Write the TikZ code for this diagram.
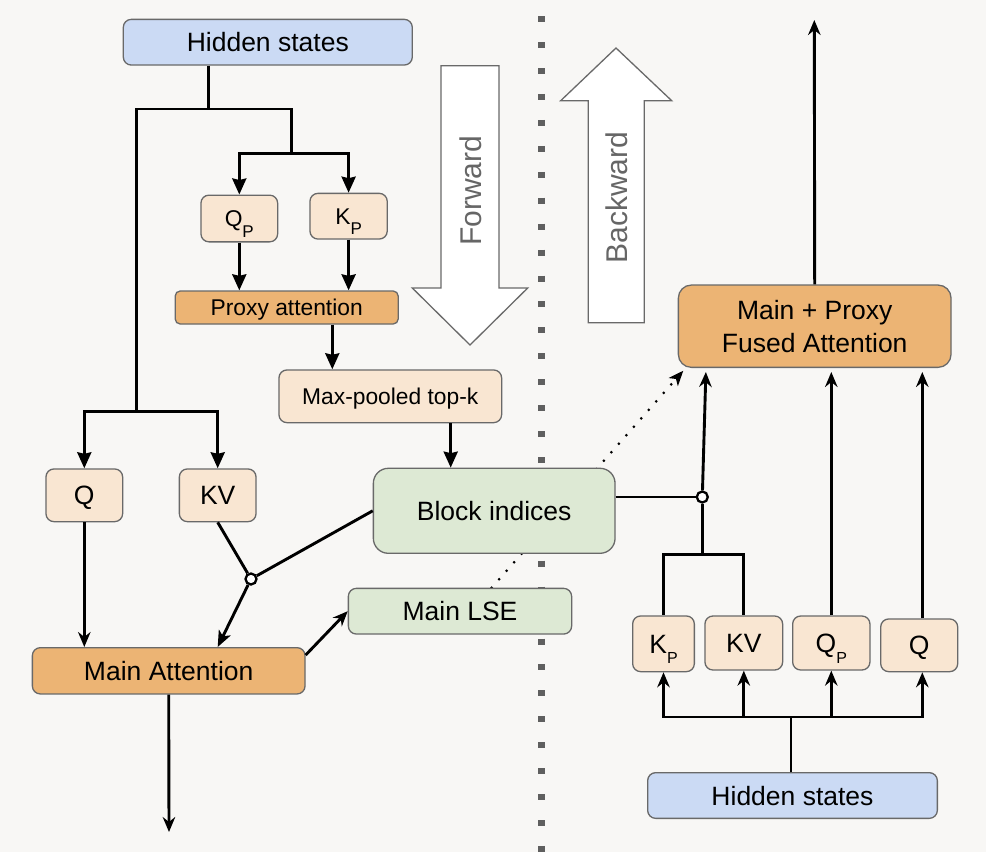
\documentclass[tikz,border=0pt]{standalone}
\usepackage{fontspec}
\setmainfont{Liberation Sans}
\usetikzlibrary{arrows.meta,calc}
\pgfdeclarelayer{bg}
\pgfsetlayers{bg,main}
\definecolor{bgc}{RGB}{248,247,245}
\definecolor{bordc}{RGB}{105,105,105}
\definecolor{bluec}{RGB}{203,218,244}
\definecolor{peachc}{RGB}{249,230,210}
\definecolor{orangec}{RGB}{236,180,116}
\definecolor{greenc}{RGB}{221,233,212}
\definecolor{dotc}{RGB}{95,95,95}
\definecolor{bigarrtxt}{RGB}{102,102,102}
\newcommand\subP[1]{\raisebox{-10.5pt}{\fontsize{#1}{#1}\selectfont P}}
\begin{document}
\begin{tikzpicture}[x=1pt,y=-1pt,
  box/.style={draw=bordc,line width=1.3pt,rounded corners=8pt,inner sep=0pt,text=black},
  big/.style={font=\fontsize{26.5}{32}\selectfont,text height=19pt,text depth=0pt},
  small/.style={font=\fontsize{22.8}{27}\selectfont,text height=16.3pt,text depth=0pt},
  blue box/.style={box,fill=bluec},
  peach box/.style={box,fill=peachc},
  orange box/.style={box,fill=orangec},
  green box/.style={box,fill=greenc},
  ln/.style={line width=2.9pt,draw=black},
  arrb/.style={ln,-{Stealth[length=16pt,width=14pt,inset=1.5pt]}},
  arrs/.style={ln,-{Stealth[length=16pt,width=13pt,inset=4pt]}},
  arrc/.style={ln,-{Stealth[length=15pt,width=12.5pt,inset=5pt]}},
  junc/.style={circle,draw=black,fill=white,line width=2.3pt,minimum size=11pt,inner sep=0pt},
  bigarrow/.style={fill=white,draw=bordc,line width=1.3pt,line join=miter},
  bigarrtext/.style={font=\fontsize{30}{36}\selectfont,text=bigarrtxt,text height=21.5pt,text depth=0pt,rotate=90},
  dotl/.style={line width=3pt,line cap=round,dash pattern=on 0pt off 11.3pt,
     -{Stealth[length=15pt,width=12pt,inset=4pt,line cap=butt]}},
  vdots/.style={line width=7pt,draw=dotc,dash pattern=on 6pt off 19.93pt}
]
\useasboundingbox (0,0) rectangle (986,852);
\begin{pgfonlayer}{bg}
  \fill[bgc] (0,0) rectangle (986,852);
  \draw[vdots] (541.5,16.2) -- (541.5,852);
\end{pgfonlayer}

% ---------- left (forward) nodes ----------
\node[blue box,big,minimum width=289pt,minimum height=45.7pt] (hs1) at (267.8,42.2) {Hidden states};
\node[peach box,small,minimum width=76.7pt,minimum height=46.7pt] (qp1) at (239.3,218.5) {Q\subP{17}};
\node[peach box,small,minimum width=77.3pt,minimum height=45.7pt] (kp1) at (348.6,216.2) {K\subP{17}};
\node[orange box,small,rounded corners=5pt,minimum width=223pt,minimum height=33pt] (proxy) at (286.7,307.5) {Proxy attention};
\node[peach box,small,minimum width=222.7pt,minimum height=52.7pt] (mp) at (390.3,396.3) {Max-pooled top-k};
\node[green box,big,rounded corners=15pt,minimum width=241.7pt,minimum height=85pt] (block) at (494.2,510.8) {Block indices};
\node[green box,big,minimum width=223.3pt,minimum height=45.7pt] (lse) at (460,611.2) {Main LSE};
\node[peach box,big,minimum width=76.7pt,minimum height=52.7pt] (q1) at (84.3,495.3) {Q};
\node[peach box,big,minimum width=76.7pt,minimum height=52.7pt] (kv1) at (217.7,495.3) {KV};
\node[orange box,big,minimum width=272.7pt,minimum height=46.3pt] (main) at (168.7,670.8) {Main Attention};
\node[junc] (j1) at (251,579) {};

% ---------- big direction arrows ----------
\draw[bigarrow] (441,65.7) -- (499,65.7) -- (499,288) -- (527.7,288) -- (470,345) -- (412.3,288) -- (441,288) -- cycle;
\node[bigarrtext] (fwdt) at (470.3,190.8) {Forward};
\draw[bigarrow] (616,48) -- (671.7,100.7) -- (644.3,100.7) -- (644.3,322.7) -- (588.3,322.7) -- (588.3,100.7) -- (560.7,100.7) -- cycle;
\node[bigarrtext] (bwdt) at (616.5,197.5) {Backward};

% ---------- right (backward) nodes ----------
\node[orange box,rounded corners=13pt,minimum width=272.7pt,minimum height=82.3pt,align=center,
      font=\fontsize{26.5}{33}\selectfont] (fused) at (814.7,326.2) {Main + Proxy\\Fused Attention};
\node[peach box,big,minimum width=61.7pt,minimum height=55.7pt] (kp2) at (663.5,643.8) {K\subP{16}};
\node[peach box,big,minimum width=77.7pt,minimum height=54pt] (kv2) at (743.8,643) {KV};
\node[peach box,big,minimum width=77.3pt,minimum height=54pt] (qp2) at (831.3,643) {Q\subP{16}};
\node[peach box,big,minimum width=77pt,minimum height=52.7pt] (q2) at (919.2,645.3) {Q};
\node[blue box,big,minimum width=289.7pt,minimum height=45.7pt] (hs2) at (792.5,795.5) {Hidden states};
\node[junc] (j2) at (702.3,497) {};

% ---------- guide coordinates ----------
\coordinate (sA) at (208.3,109);
\coordinate (sR) at (291.5,153.5);
\coordinate (sL) at (136.7,411.7);
\coordinate (gx1) at (332.3,0);
\coordinate (gx2) at (450.7,0);
\coordinate (gx3) at (217.7,0);
\coordinate (gxl) at (491.7,0);
\coordinate (out1) at (169,832);
\coordinate (dotE) at (683.3,370.7);
\coordinate (out2) at (814.3,20);
\coordinate (sB) at (702.3,554.3);
\coordinate (gx5) at (706,0);
\coordinate (gx6) at (922.3,0);
\coordinate (sC) at (791,717);

% ---------- left connectors ----------
\draw[ln] (hs1.south -| sA) -- (sA);
\draw[ln] (sA) -| (sL);
\draw[ln] (sA) -| (sR);
\draw[arrb] (sR) -| (qp1.north);
\draw[arrb] (sR) -| (kp1.north);
\draw[arrb] (qp1.south) -- (qp1.south |- proxy.north);
\draw[arrb] (kp1.south) -- (kp1.south |- proxy.north);
\draw[arrb] (proxy.south -| gx1) -- (mp.north -| gx1);
\draw[arrb] (mp.south -| gx2) -- (block.north -| gx2);
\draw[arrb] (sL) -| (q1.north);
\draw[arrb] (sL) -| (kv1.north);
\draw[arrc] (q1.south) -- (q1.south |- main.north);
\draw[ln] (kv1.south) -- (j1);
\draw[ln] (block.west) -- (j1);
\draw[arrs] (j1) -- (main.north -| gx3);
\draw[arrc] ($(main.north east)+(0,8)$) -- (lse.west);
\draw[arrc] (main.south) -- (out1);
\begin{pgfonlayer}{bg}
  \draw[dotl] (lse.north -| gxl) -- (dotE);
\end{pgfonlayer}

% ---------- right connectors ----------
\draw[arrc] (fused.north) -- (out2);
\draw[ln] (block.east |- j2) -- (j2);
\draw[arrc,shorten >=4pt] (j2) -- (fused.south -| gx5);
\draw[ln] (j2) -- (sB);
\draw[ln] (sB) -| (kp2.north);
\draw[ln] (sB) -| (kv2.north);
\draw[arrc,shorten >=4pt] (qp2.north) -- (qp2.north |- fused.south);
\draw[arrc,shorten >=4pt] (q2.north -| gx6) -- (fused.south -| gx6);
\draw[ln] (hs2.north -| sC) -- (sC);
\draw[arrc] (sC) -| (kp2.south);
\draw[arrc] (sC) -| (kv2.south);
\draw[arrc] (sC) -| (qp2.south);
\draw[arrc] (sC) -| (q2.south -| gx6);
\end{tikzpicture}
\end{document}
